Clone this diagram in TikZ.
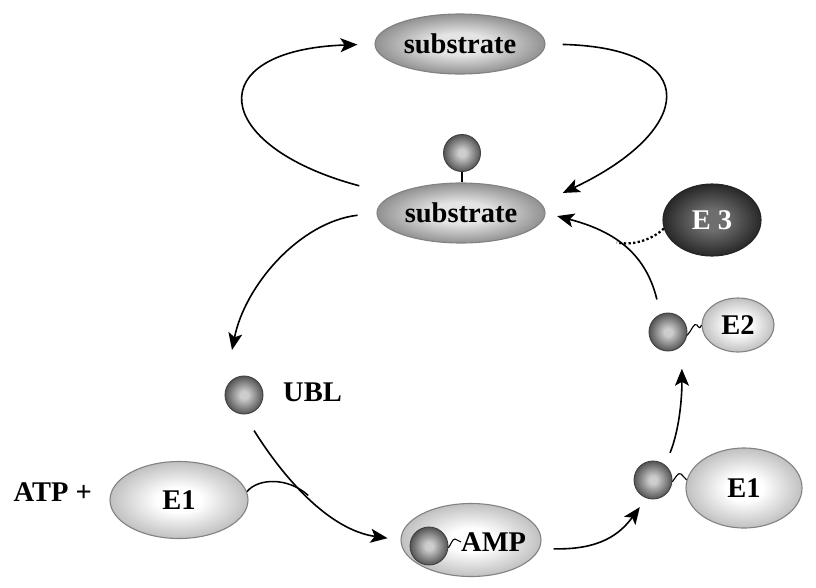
\documentclass[tikz,border=0pt]{standalone}
\usepackage{fontspec}
\setmainfont{Liberation Serif}
\usetikzlibrary{shapes.geometric,arrows.meta,calc}
\definecolor{subout}{RGB}{135,135,135}
\definecolor{subin}{RGB}{228,228,228}
\definecolor{enzout}{RGB}{185,185,185}
\definecolor{enzin}{RGB}{255,255,255}
\definecolor{ballout}{RGB}{78,78,78}
\definecolor{ballin}{RGB}{205,205,205}
\definecolor{ethreeout}{RGB}{36,36,36}
\definecolor{ethreein}{RGB}{110,110,110}
\definecolor{edgegray}{RGB}{130,130,130}
\pgfdeclareradialshading{subshade}{\pgfpoint{0bp}{0bp}}{color(0bp)=(subin); color(9bp)=(subin); color(27bp)=(subout); color(50bp)=(subout)}
\pgfdeclareradialshading{enzshade}{\pgfpoint{0bp}{0bp}}{color(0bp)=(enzin); color(8bp)=(enzin); color(27bp)=(enzout); color(50bp)=(enzout)}
\pgfdeclareradialshading{ballshade}{\pgfpoint{0bp}{0bp}}{color(0bp)=(ballin); color(5bp)=(ballin); color(26bp)=(ballout); color(50bp)=(ballout)}
\pgfdeclareradialshading{darkshade}{\pgfpoint{0bp}{0bp}}{color(0bp)=(ethreein); color(7bp)=(ethreein); color(26bp)=(ethreeout); color(50bp)=(ethreeout)}
\begin{document}
\begin{tikzpicture}[x=1pt,y=-1pt,
  lbl/.style={font=\fontsize{28.5}{30}\selectfont\bfseries},
  ell/.style={ellipse, draw=edgegray, line width=1.1pt, inner sep=0pt, lbl},
  subst/.style={ell, shade, shading=subshade},
  enz/.style={ell, shade, shading=enzshade},
  darkenz/.style={ell, draw=ethreeout, shade, shading=darkshade, text=white},
  ball/.style={circle, draw=black!75, line width=0.9pt, inner sep=0pt, minimum size=38pt, shade, shading=ballshade},
  arr/.style={line width=1.6pt, -{Stealth[length=17pt,width=14pt,inset=4pt]}},
  wig/.style={line width=1.1pt},
  dots/.style={line width=2.3pt, dash pattern=on 2.3pt off 2.3pt}
]
\useasboundingbox (0,0) rectangle (816,587);

% nodes
\node[subst, minimum width=170pt, minimum height=60pt] (sub1) at (460,44) {substrate};
\node[subst, minimum width=168pt, minimum height=60pt] (sub2) at (461,213) {substrate};
\node[ball, minimum size=37pt] (ubq) at (462,153) {};
\draw[line width=2.5pt] (ubq.south) -- (ubq.south |- sub2.north);
\node[darkenz, minimum width=98pt, minimum height=72pt] (e3) at (712,220) {E 3};
\node[enz, minimum width=72pt, minimum height=54pt] (e2) at (738,325) {E2};
\node[ball] (e2b) at (668,332) {};
\node[ball] (ubl) at (244,395) {};
\node[lbl, anchor=west, inner sep=0pt] (ubltext) at (283,392) {UBL};
\node[lbl, anchor=east, inner sep=0pt] (atp) at (92,492) {ATP +};
\node[enz, minimum width=138pt, minimum height=77pt] (e1l) at (179,500) {E1};
\node[enz, minimum width=140pt, minimum height=73pt] (amp) at (471,540) {};
\node[ball] (ampb) at (429,546) {};
\node[lbl, anchor=west, inner sep=0pt] (ampt) at (461,542) {AMP};
\node[enz, minimum width=116pt, minimum height=80pt] (e1r) at (744,488) {E1};
\node[ball] (e1rb) at (653,480) {};
\coordinate (a3end) at (232,350);

% cycle arrows
\draw[arr, shorten <=35pt, shorten >=17pt] (sub2.165) .. controls (210,146) and (200,50) .. (sub1.west);
\draw[arr, shorten <=17pt, shorten >=24pt] (sub1.east) .. controls (705,48) and (694,131) .. (sub2.7);
\draw[arr, shorten <=19pt] (sub2.west) .. controls (300,222) and (245,285) .. (a3end);
\draw[arr, shorten <=19pt, shorten >=13pt] (ubl.south) .. controls (285,480) and (330,530) .. coordinate[pos=0.48] (a4m) (amp.west);
\draw[arr, shorten <=14pt, shorten >=11pt] (amp.-7) .. controls (600,550) and (620,534) .. (e1rb.250);
\draw[arr, shorten <=13pt, shorten >=23pt] (e1rb.51) .. controls (680,428) and (682,395) .. (e2b.-45);
\draw[arr, shorten <=15pt, shorten >=12pt] (e2b.113) .. controls (645,250) and (610,230) .. coordinate[pos=0.54] (a7m) (sub2.east);

% E3 dotted link
\draw[dots] (e3.190) .. controls (652,240) and (632,246) .. (a7m);

% E1 tail joining the arrow
\draw[wig, line width=1.5pt] (e1l.7) .. controls (258,478) and (288,477) .. (a4m);

% wiggly links
\draw[wig] (e2b.-10) .. controls (692,330) and (694,322) .. (697,325) .. controls (699,328) and (700,329) .. (e2.west);
\draw[wig] (e1rb.-5) .. controls (676,477) and (678,472) .. (681,474) .. controls (683,476) and (685,478) .. (e1r.172);
\draw[wig] (ampb.-5) .. controls (451,545) and (452,539) .. (455,539) .. controls (457,539) and (459,542) .. (ampt.west);
\end{tikzpicture}
\end{document}
